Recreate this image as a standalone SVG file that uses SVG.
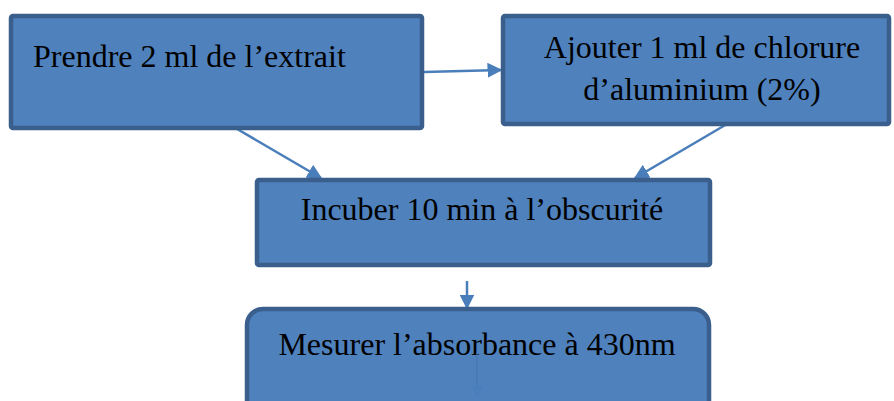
<svg xmlns="http://www.w3.org/2000/svg" width="894" height="401" viewBox="0 0 894 401">
  <style>
    .box { fill: #4f81bd; stroke: #3a5f8d; stroke-width: 4.5; }
    .label { font-family: "Times New Roman", "Liberation Serif", "DejaVu Serif", serif; font-size: 32px; fill: #000; }
    .mid { text-anchor: middle; }
    .edge { stroke: #4a7ebb; stroke-width: 2.5; fill: none; marker-end: url(#head); }
  </style>
  <defs>
    <marker id="head" viewBox="0 0 10 10" refX="9" refY="5" markerWidth="6" markerHeight="6" orient="auto" markerUnits="strokeWidth">
      <path d="M0,0 L10,5 L0,10 z" fill="#4a7ebb"/>
    </marker>
  </defs>

  <g id="connectors">
    <line class="edge" x1="424" y1="72" x2="501" y2="70"/>
    <line class="edge" x1="232" y1="126" x2="321" y2="178"/>
    <line class="edge" x1="727" y1="124" x2="635" y2="178"/>
    <line class="edge" x1="467" y1="281" x2="467" y2="308"/>
  </g>

  <g id="node-extrait">
    <rect class="box" x="11" y="16" width="411" height="112" rx="2"/>
    <text class="label" x="33" y="67" font-family="Liberation Serif, serif">Prendre 2 ml de l’extrait</text>
  </g>

  <g id="node-chlorure">
    <rect class="box" x="503" y="16" width="386" height="108" rx="2"/>
    <text class="label mid" x="702" y="58">Ajouter 1 ml de chlorure</text>
    <text class="label mid" x="702" y="100">d’aluminium (2%)</text>
  </g>

  <g id="node-incuber">
    <rect class="box" x="257" y="180" width="453" height="85" rx="2"/>
    <text class="label mid" x="482" y="220">Incuber 10 min à l’obscurité</text>
  </g>

  <g id="node-mesurer">
    <rect class="box" x="247" y="309" width="462" height="110" rx="16"/>
    <text class="label mid" x="477" y="355">Mesurer l’absorbance à 430nm</text>
    <line x1="477" y1="353" x2="477" y2="396" stroke="#4a78b3" stroke-width="2" marker-end="url(#head)" opacity="0.6"/>
  </g>
</svg>
